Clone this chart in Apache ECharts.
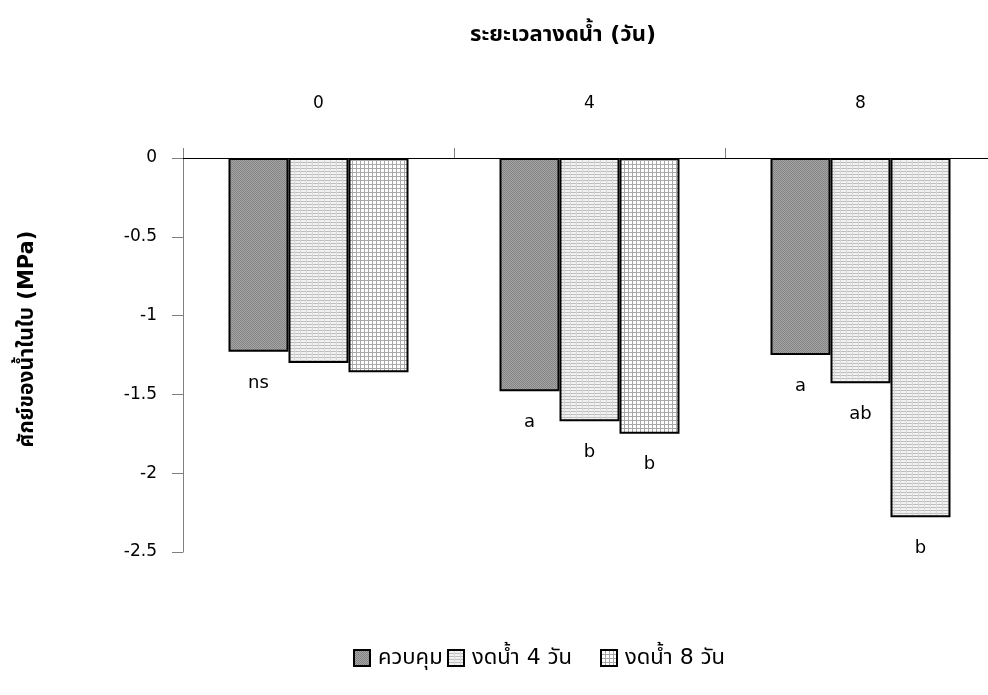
<!DOCTYPE html>
<html><head><meta charset="utf-8">
<script src="https://cdn.jsdelivr.net/npm/echarts@6/dist/echarts.min.js"></script>
<style>html,body{margin:0;padding:0;background:#fff}#c{width:988px;height:695px}</style>
</head><body><div id="c"></div>
<script>
// ---- data ----
const categories = ['0', '4', '8'];
const seriesNames = ['ควบคุม', 'งดน้ำ 4 วัน', 'งดน้ำ 8 วัน'];
const controlValues = [-1.23, -1.48, -1.25];
const drought4Values = [-1.30, -1.67, -1.43];
const drought8Values = [-1.36, -1.75, -2.28];
const controlLetters = ['ns', 'a', 'a'];
const drought4Letters = ['', 'b', 'ab'];
const drought8Letters = ['', 'b', 'b'];
const xTitle = 'ระยะเวลางดน้ำ (วัน)';
const yTitle = 'ศักย์ของน้ำในใบ (MPa)';

// ---- patterns ----
function makePattern(size, draw) {
  const c = document.createElement('canvas');
  c.width = size; c.height = size;
  const g = c.getContext('2d');
  draw(g);
  return { image: c, repeat: 'repeat' };
}
const patDark = makePattern(2, g => {
  g.fillStyle = '#a6a6a6'; g.fillRect(0, 0, 2, 2);
  g.fillStyle = '#838383'; g.fillRect(0, 0, 1, 1); g.fillRect(1, 1, 1, 1);
});
const patLines = makePattern(6, g => {
  g.fillStyle = '#f2f2f2'; g.fillRect(0, 0, 6, 6);
  g.fillStyle = '#bdbdbd'; g.fillRect(0, 0, 6, 1); g.fillRect(0, 3, 6, 1);
  g.fillStyle = '#d8d8d8'; g.fillRect(0, 0, 1, 6);
});
const patGrid = makePattern(4, g => {
  g.fillStyle = '#ffffff'; g.fillRect(0, 0, 4, 4);
  g.fillStyle = '#a8a8a8'; g.fillRect(0, 0, 4, 1); g.fillRect(0, 0, 1, 4);
});
const patterns = [patDark, patLines, patGrid];
// the last bar of the third group is drawn with the line fill in the original
const fillOverride = { '2-2': patLines };

const thai = "'DejaVu Sans', 'Noto Sans Thai', 'Noto Sans', sans-serif";
const num = "'DejaVu Sans', 'Liberation Sans', sans-serif";

function makeSeries(name, values, letters, idx) {
  return {
    name: name,
    type: 'bar',
    barWidth: 60,
    barGap: '0%',
    itemStyle: { color: patterns[idx], borderColor: '#000', borderWidth: 2 },
    data: values.map((v, i) => {
      const item = { value: v, label: { show: !!letters[i], formatter: letters[i] } };
      const o = fillOverride[idx + '-' + i];
      if (o) item.itemStyle = { color: o };
      return item;
    }),
    label: {
      position: 'bottom', distance: 22, color: '#000',
      fontSize: 18, fontFamily: num
    }
  };
}

const legendLefts = [353, 447, 600];
const chart = echarts.init(document.getElementById('c'), null, { renderer: 'canvas' });
chart.setOption({
  animation: false,
  backgroundColor: '#fff',
  grid: { left: 183, top: 158, width: 813, bottom: 143, outerBoundsMode: 'none', containLabel: false },
  legend: seriesNames.map((n, i) => ({
    left: legendLefts[i], top: 647, padding: 0,
    itemWidth: 16, itemHeight: 16,
    icon: 'rect',
    textStyle: { fontSize: 22, color: '#000', fontFamily: thai, padding: [0, 0, 0, 3] },
    data: [n]
  })),
  graphic: [
    { type: 'text', x: 563, y: 35,
      style: { text: xTitle, fontSize: 22, fontWeight: 'bold', fill: '#000', fontFamily: thai,
               align: 'center', verticalAlign: 'middle' } },
    { type: 'text', x: 28, y: 339, rotation: Math.PI / 2,
      style: { text: yTitle, fontSize: 21, fontWeight: 'bold', fill: '#000', fontFamily: thai,
               align: 'center', verticalAlign: 'middle' } }
  ],
  xAxis: {
    type: 'category', data: categories, position: 'top',
    axisLine: { onZero: false, lineStyle: { color: '#000', width: 1 } },
    axisTick: { show: true, length: 10, lineStyle: { color: '#808080' } },
    axisLabel: { margin: 46, fontSize: 17, color: '#000', fontFamily: num }
  },
  yAxis: {
    type: 'value', min: -2.5, max: 0, interval: 0.5,
    splitLine: { show: false },
    axisLine: { show: true, lineStyle: { color: '#808080' } },
    axisTick: { show: true, length: 11, lineStyle: { color: '#808080' } },
    axisLabel: { margin: 26, fontSize: 17, color: '#000', fontFamily: num }
  },
  series: [
    makeSeries(seriesNames[0], controlValues, controlLetters, 0),
    makeSeries(seriesNames[1], drought4Values, drought4Letters, 1),
    makeSeries(seriesNames[2], drought8Values, drought8Letters, 2)
  ]
});
</script></body></html>
